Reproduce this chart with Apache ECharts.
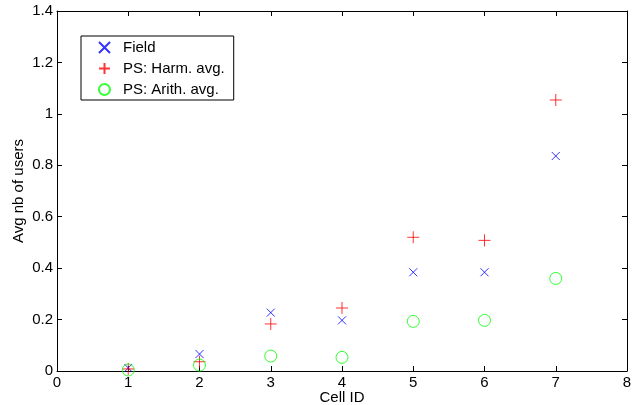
<!DOCTYPE html>
<html lang="en">
  <head>
    <meta charset="UTF-8" />
    <title>Avg nb of users per cell</title>
    <script src="https://cdn.jsdelivr.net/npm/echarts@6/dist/echarts.min.js"></script>
    <style>
      html, body { margin: 0; padding: 0; background: #fff; }
      #main { width: 637px; height: 405px; }
    </style>
  </head>
  <body>
    <div id="main"></div>
  </body>
  <script>
    // data
    var cellIds = [1, 2, 3, 4, 5, 6, 7];
    var field = [0.012, 0.066, 0.227, 0.197, 0.384, 0.384, 0.836];
    var harmAvg = [0.008, 0.036, 0.183, 0.245, 0.52, 0.508, 1.054];
    var arithAvg = [0.004, 0.023, 0.058, 0.053, 0.193, 0.197, 0.36];
    var seriesNames = ["Field", "PS: Harm. avg.", "PS: Arith. avg."];

    var font = "Liberation Sans";
    var crossPath = "path://M0,0L10,10M10,0L0,10";
    var plusPath = "path://M5,0L5,10M0,5L10,5";

    function pairs(vals) {
      return cellIds.map(function (c, i) { return [c, vals[i]]; });
    }

    var myChart = echarts.init(document.getElementById("main"), null, { renderer: "canvas" });

    var axisCommon = {
      axisLine: { show: true, onZero: false, lineStyle: { color: "#000", width: 1 } },
      axisTick: { show: true, inside: true, length: 5, lineStyle: { color: "#000" } },
      splitLine: { show: false },
    };

    option = {
      backgroundColor: "#fff",
      animation: false,
      grid: { left: 57, right: 10, top: 11, bottom: 34, outerBoundsMode: "none", containLabel: false },
      legend: {
        orient: "vertical",
        left: 81,
        top: 36,
        backgroundColor: "#fff",
        borderColor: "#000",
        borderWidth: 1,
        borderRadius: 0,
        padding: [4, 9, 3, 17],
        itemGap: 6,
        itemWidth: 11,
        itemHeight: 11,
        textStyle: { fontFamily: font, fontSize: 15, color: "#000", padding: [0, 0, 0, 8] },
        data: seriesNames,
      },
      xAxis: [
        Object.assign({}, axisCommon, {
          type: "value",
          min: 0,
          max: 8,
          interval: 1,
          name: "Cell ID",
          nameLocation: "middle",
          nameMoveOverlap: false,
          nameGap: 19,
          nameTextStyle: { fontFamily: font, fontSize: 15, color: "#000" },
          axisLabel: { fontFamily: font, fontSize: 15, color: "#000", margin: 4 },
        }),
        Object.assign({}, axisCommon, {
          type: "value",
          position: "top",
          min: 0,
          max: 8,
          interval: 1,
          axisLabel: { show: false },
        }),
      ],
      yAxis: [
        Object.assign({}, axisCommon, {
          type: "value",
          min: 0,
          max: 1.4,
          interval: 0.2,
          name: "Avg nb of users",
          nameLocation: "middle",
          nameMoveOverlap: false,
          nameGap: 31,
          nameTextStyle: { fontFamily: font, fontSize: 15, color: "#000" },
          axisLabel: {
            fontFamily: font,
            fontSize: 15,
            color: "#000",
            margin: 4,
            formatter: function (v) { return String(Math.round(v * 10) / 10); },
          },
        }),
        Object.assign({}, axisCommon, {
          type: "value",
          position: "right",
          min: 0,
          max: 1.4,
          interval: 0.2,
          axisLabel: { show: false },
        }),
      ],
      series: [
        {
          name: seriesNames[0],
          type: "scatter",
          symbol: crossPath,
          symbolSize: 8,
          itemStyle: { color: "rgba(0,0,0,0)", borderColor: "#0000ff", borderWidth: 1 },
          data: pairs(field),
        },
        {
          name: seriesNames[1],
          type: "scatter",
          symbol: plusPath,
          symbolSize: 12,
          itemStyle: { color: "rgba(0,0,0,0)", borderColor: "#ff0000", borderWidth: 1 },
          data: pairs(harmAvg),
        },
        {
          name: seriesNames[2],
          type: "scatter",
          symbol: "circle",
          symbolSize: 12,
          itemStyle: { color: "rgba(0,0,0,0)", borderColor: "#00ff00", borderWidth: 1 },
          data: pairs(arithAvg),
        },
      ],
    };
    myChart.setOption(option);
  </script>
</html>
